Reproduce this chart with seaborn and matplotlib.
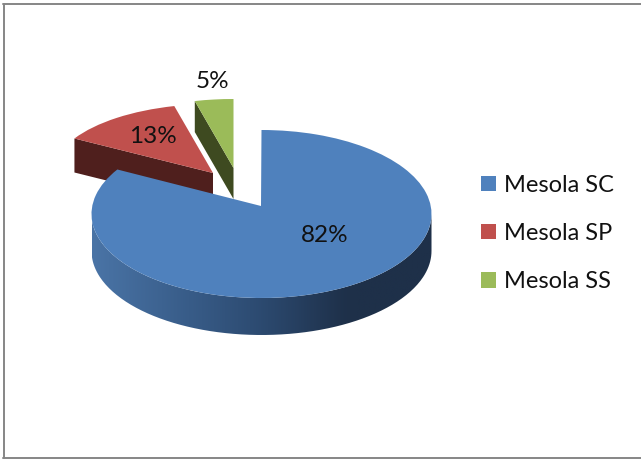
import numpy as np
import matplotlib
matplotlib.use("Agg")
import matplotlib.pyplot as plt
from matplotlib.patches import Patch, PathPatch
from matplotlib.path import Path
from matplotlib.lines import Line2D
from matplotlib.colors import LinearSegmentedColormap
import seaborn as sns

categories = ["Mesola SC", "Mesola SP", "Mesola SS"]
shares = [82, 13, 5]
top_colors = ["#4F81BD", "#C0504D", "#9BBB59"]
side_colors = ["#4F1F1D", "#3E4A20"]
blue_side = ["#4A74A6", "#3A5F8C", "#2C4A70", "#1E3049", "#1E3049"]

sns.set_theme(style="white")
plt.rcParams["font.family"] = ["Lato", "DejaVu Sans"]

W, H = 641, 459
fig = plt.figure(figsize=(W / 100, H / 100), dpi=100, facecolor="white")
ax = fig.add_axes([0, 0, 1, 1])

# pixel geometry of the tilted pie
CX, CY, RX, RY = 261.5, 214.0, 170.0, 84.0


def sx(p):
    return (p - CX) / RX


def sy(p):
    return (CY - p) / RY


wedges, _ = ax.pie(shares, colors=top_colors, startangle=90, counterclock=False,
                   radius=1, center=(0, 0), frame=True,
                   wedgeprops=dict(linewidth=0))
ax.set_aspect("auto")
ax.set_xlim(sx(0), sx(W))
ax.set_ylim(sy(H), sy(0))
ax.axis("off")

# perspective view: apex positions, slice scale, depth
apex_px = [(261, 206), (213, 173), (233.5, 168)]
scale = [(1.0, 1.0), (160 / 170, 69 / 84), (160 / 170, 69 / 84)]
depth_px = [37, 34, 31]

wedges[0].set_theta1(-212.0)
wedges[0].set_theta2(90.0)
wedges[1].set_theta1(90 - 346.0)
wedges[1].set_theta2(90 - 300.0)
wedges[2].set_theta1(90.0)
wedges[2].set_theta2(90 + 14.0)

corners = []
for i, w in enumerate(wedges):
    path = w.get_path()
    v = path.vertices
    at_center = np.all(np.isclose(v, 0.0, atol=1e-9), axis=1)
    ax_, ay_ = sx(apex_px[i][0]), sy(apex_px[i][1])
    if i == 0:
        v[at_center] = (ax_, ay_)
    else:
        v[:, 0] = ax_ + v[:, 0] * scale[i][0]
        v[:, 1] = ay_ + v[:, 1] * scale[i][1]
    corners.append((ax_, ay_))


def corner(i, t_deg):
    t = np.radians(t_deg)
    return (corners[i][0] + np.sin(t) * scale[i][0], corners[i][1] + np.cos(t) * scale[i][1])


# dark radial faces of the exploded slices
for i, t_deg, col in [(1, 300.0, side_colors[0]), (2, 346.0, side_colors[1])]:
    cx_, cy_ = corner(i, t_deg)
    d = depth_px[i] / RY
    ax.fill([cx_, corners[i][0], corners[i][0], cx_],
            [cy_, corners[i][1], corners[i][1] - d, cy_ - d],
            color=col, linewidth=0, zorder=wedges[i].get_zorder() - 0.5)

# draw order: red, green, then the blue slice with its side wall on top
wedges[1].set_zorder(2)
wedges[2].set_zorder(2)
wedges[0].set_zorder(4)

t = np.linspace(-np.pi / 2, np.pi / 2, 200)
arc_x, arc_y = np.sin(t), -np.cos(t)
d = depth_px[0] / RY
wall_x = np.concatenate([arc_x, arc_x[::-1]])
wall_y = np.concatenate([arc_y - d, arc_y[::-1]])
wall = PathPatch(Path(np.column_stack([wall_x, wall_y])), facecolor="none", edgecolor="none",
                 transform=ax.transData)
ax.add_patch(wall)
cmap = LinearSegmentedColormap.from_list("side", sns.blend_palette(blue_side, 32))
img = ax.imshow(np.linspace(0, 1, 256)[None, :], extent=(-1, 1, -1 - d, 0), cmap=cmap,
                aspect="auto", zorder=3, interpolation="bilinear")
img.set_clip_path(wall)
ax.set_aspect("auto")
ax.set_xlim(sx(0), sx(W))
ax.set_ylim(sy(H), sy(0))

# percentage labels
label_px = [(325, 236), (153, 137), (212, 82)]
for s, (px, py) in zip(shares, label_px):
    ax.text(sx(px), sy(py), f"{s}%", ha="center", va="center", fontsize=17.5, color="#111111", zorder=6)

# legend
handles = [Patch(facecolor=c, edgecolor="none") for c in top_colors]
ax.legend(handles, categories, loc="center left", bbox_to_anchor=(474 / W, 1 - 233.5 / H),
          bbox_transform=fig.transFigure, frameon=False, fontsize=17,
          handlelength=0.635, handleheight=0.635, handletextpad=0.34, labelspacing=1.16,
          labelcolor="#111111", borderpad=0.3, borderaxespad=0)

# outer chart frame (left, top, bottom only are inside the crop)
frame = "#868686"
for xs, ys in [((3.8, 3.8), (3.5, 458)), ((3, W), (3.8, 3.8)), ((3, W), (458, 458))]:
    fig.add_artist(Line2D([x / W for x in xs], [1 - y / H for y in ys], color=frame, linewidth=1.4))

fig.savefig("out.png", dpi=100)
